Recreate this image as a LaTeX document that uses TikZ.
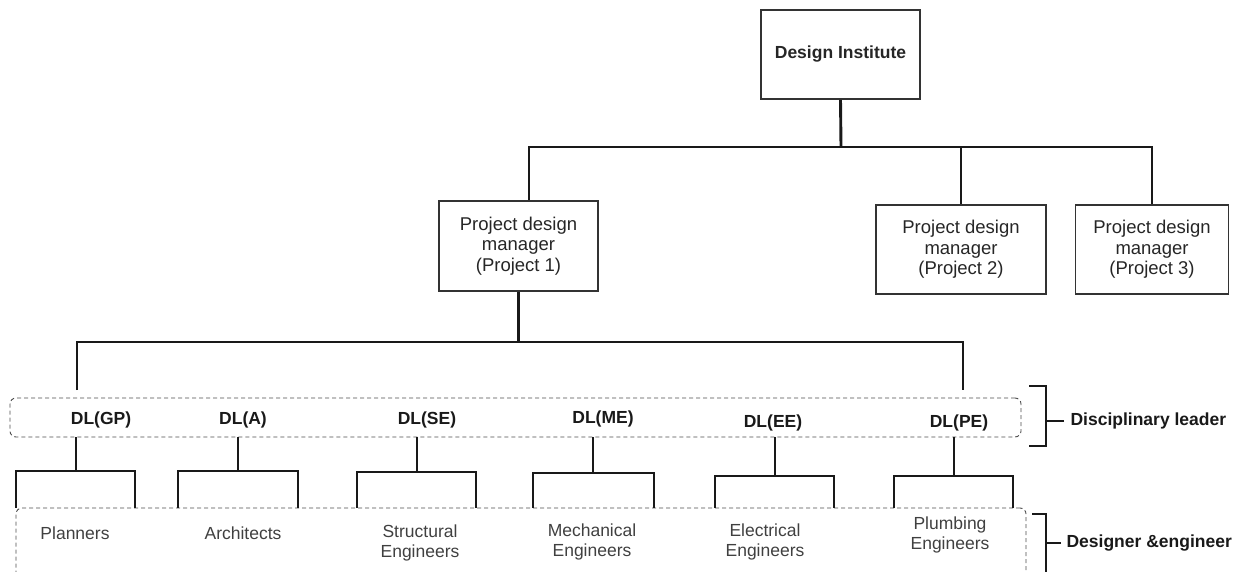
\documentclass[tikz,border=0pt]{standalone}
\usepackage{fontspec}
\setmainfont{Liberation Sans}

\begin{document}
\begin{tikzpicture}[x=1pt,y=-1pt]
    \tikzset{box/.style = {draw=black!80, line width=1.6pt, inner sep=0pt, align=center, text=black!85, font=\fontsize{18.5}{20.5}\selectfont}}
    \tikzset{link/.style = {draw=black!90, line width=2.9pt}}
    \tikzset{group/.style = {draw=black!70, line width=0.9pt, dash pattern=on 4pt off 3pt, rounded corners=6pt, inner sep=0pt}}
    \tikzset{lead/.style = {text=black!90, font=\bfseries\fontsize{17.5}{20}\selectfont}}
    \tikzset{staff/.style = {align=center, text=black!75, font=\fontsize{17.5}{20}\selectfont}}

    \useasboundingbox (0,0) rectangle (1249,572);

    % boxes
    \node[box, minimum width=159pt, minimum height=89pt, font=\bfseries\fontsize{17.5}{20}\selectfont] (di) at (840.5,54.5) {Design Institute};
    \node[box, minimum width=159pt, minimum height=90pt] (p1) at (518.5,246) {Project design\\manager\\ (Project 1)};
    \node[box, minimum width=170pt, minimum height=89pt] (p2) at (961,249.5) {Project design\\manager\\ (Project 2)};
    \node[box, minimum width=153pt, minimum height=89pt] (p3) at (1152,249.5) {Project design\\manager\\ (Project 3)};

    % dashed groups
    \node[group, minimum width=1011pt, minimum height=39pt] (lgroup) at (515.5,417.5) {};
    \node[group, minimum width=1010pt, minimum height=92pt] (sgroup) at (521,554) {};

    % disciplinary leaders
    \node[lead] (gp) at (101,420) {DL(GP)};
    \node[lead] (a)  at (243,420) {DL(A)};
    \node[lead] (se) at (427,420) {DL(SE)};
    \node[lead] (me) at (603,419) {DL(ME)};
    \node[lead] (ee) at (773,423) {DL(EE)};
    \node[lead] (pe) at (959,423) {DL(PE)};

    % designers and engineers
    \node[staff] (pl) at (75,533)  {Planners};
    \node[staff] (ar) at (243,533) {Architects};
    \node[staff] (st) at (420,543) {Structural\\Engineers};
    \node[staff] (mc) at (592,542) {Mechanical\\Engineers};
    \node[staff] (el) at (765,542) {Electrical\\Engineers};
    \node[staff] (pb) at (950,535) {Plumbing\\Engineers};

    % side labels
    \node[lead, anchor=west] (dlead) at (1067,421) {Disciplinary leader};
    \node[lead, anchor=west] (deng)  at (1063,543) {Designer \&engineer};

    % tree lines
    \coordinate (hub) at (841,147);
    \draw[link] (di.south) -- (hub);
    \draw[link] ([xshift=10.5pt]p1.north) |- (hub -| p3.north) -- (p3.north);
    \draw[link] (p2.north) -- (p2.north |- hub);

    \coordinate (bus) at (518.5,342);
    \coordinate (gpdrop) at (77,390);
    \coordinate (pedrop) at (963,390);
    \draw[link] (p1.south) -- (bus);
    \draw[link] (gpdrop) |- (bus) -| (pedrop);

    \foreach \stem/\fy/\l/\r in {76/471/16/135, 238/471/178/298, 417/472/357/476, 593/473/533/654, 775/476/715/834, 954/476/894/1013} {
        \coordinate (fork) at (\stem,\fy);
        \draw[link] (lgroup.south -| fork) -- (fork);
        \draw[link] (sgroup.north -| \l,0) |- (fork) -| (sgroup.north -| \r,0);
    }

    % brackets
    \coordinate (lbtop) at (1029,386);
    \coordinate (lbbot) at (1029,446);
    \draw[link] (lbtop) -| (1046,416) |- (lbbot);
    \draw[link] ([xshift=-3pt]dlead.west) -- (dlead.west -| 1046,0);
    \coordinate (dbtop) at (1032,514);
    \draw[link] (dbtop) -| (1046,600);
    \draw[link] ([xshift=-2pt]deng.west) -- (deng.west -| 1046,0);
\end{tikzpicture}
\end{document}
